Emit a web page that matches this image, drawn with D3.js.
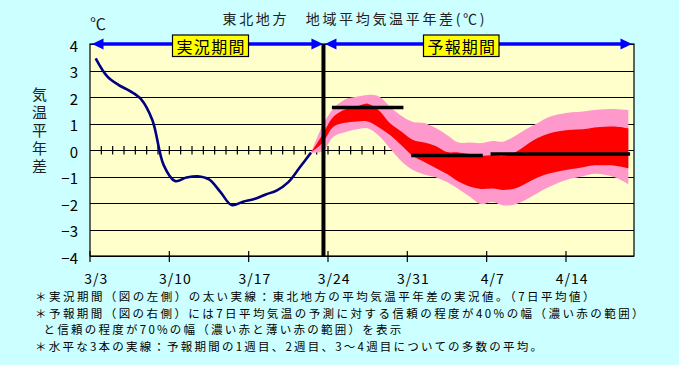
<!DOCTYPE html>
<html>
<head>
<meta charset="utf-8">
<script src="https://cdn.jsdelivr.net/npm/d3@7"></script>
<style>
  body { margin: 0; background: #ccffff; }
  svg { display: block; font-family: "Noto Sans CJK JP", sans-serif; }
</style>
</head>
<body>
<svg width="679" height="365"></svg>
<script>
// days counted from 3/3 (day 0) to 4/19 (day 47)
var nDays = 48;
var tickDays = [0, 7, 14, 21, 28, 35, 42];
var tickLabels = ["3/3", "3/10", "3/17", "3/24", "3/31", "4/7", "4/14"];
var yTicks = [-4, -3, -2, -1, 0, 1, 2, 3, 4];

// observed 7-day mean anomaly, day 0..19
var obs = [3.46, 2.79, 2.46, 2.23, 1.92, 1.13, -0.57, -1.17, -1.04, -0.99,
           -1.11, -1.58, -2.08, -1.95, -1.85, -1.68, -1.52, -1.21, -0.66, -0.10];

// forecast ranges, day 19..47
var fcStart = 19;
var pinkUpper = [-0.10, 0.91, 1.58, 1.91, 2.01, 2.08, 2.02, 1.62, 1.28, 1.06,
                 1.02, 0.83, 0.57, 0.28, 0.28, 0.26, 0.34, 0.32, 0.53, 0.79,
                 1.02, 1.25, 1.36, 1.42, 1.45, 1.51, 1.54, 1.54, 1.51];
var redUpper = [-0.10, 0.57, 1.26, 1.53, 1.63, 1.75, 1.49, 1.00, 0.69, 0.38,
                0.28, 0.15, -0.08, -0.09, -0.15, -0.22, -0.20, -0.23, -0.09, 0.19,
                0.45, 0.62, 0.72, 0.76, 0.78, 0.85, 0.88, 0.88, 0.82];
var redLower = [-0.10, 0.26, 0.89, 1.03, 1.08, 1.08, 0.85, 0.56, 0.17, -0.23,
                -0.45, -0.68, -0.91, -1.19, -1.38, -1.47, -1.45, -1.51, -1.45, -1.25,
                -1.04, -0.89, -0.79, -0.72, -0.65, -0.58, -0.58, -0.60, -0.69];
var pinkLower = [-0.10, -0.05, 0.51, 0.67, 0.78, 0.82, 0.53, 0.05, -0.43, -0.75,
                 -0.92, -1.03, -1.21, -1.47, -1.75, -2.04, -1.96, -2.09, -2.06, -1.87,
                 -1.62, -1.40, -1.21, -1.08, -0.99, -0.90, -0.94, -1.06, -1.30];

// ensemble mean of week 1, week 2, weeks 3-4
var weekStart = [21, 28, 35];
var weekEnd = [27, 34, 47];
var weekMean = [1.60, -0.21, -0.15];

var splitDay = 20.1;

var notes = [
  "＊実況期間（図の左側）の太い実線：東北地方の平均気温平年差の実況値。（7日平均値）",
  "＊予報期間（図の右側）には7日平均気温の予測に対する信頼の程度が40%の幅（濃い赤の範囲）",
  "と信頼の程度が70%の幅（濃い赤と薄い赤の範囲）を表示",
  "＊水平な3本の実線：予報期間の1週目、2週目、3～4週目についての多数の平均。"
];

var svg = d3.select("svg");
var x = d3.scaleLinear().domain([-0.5, nDays - 0.5]).range([90, 634]);
var y = d3.scaleLinear().domain([-4, 4]).range([256, 44]);

svg.append("rect").attr("width", 679).attr("height", 365).attr("fill", "#ccffff");
svg.append("rect")
    .attr("x", x(-0.5)).attr("y", y(4))
    .attr("width", x(nDays - 0.5) - x(-0.5)).attr("height", y(-4) - y(4))
    .attr("fill", "#ffffcc");

// grid
svg.append("g").selectAll("line")
  .data(yTicks)
  .enter().append("line")
    .attr("x1", x(-0.5)).attr("x2", x(nDays - 0.5))
    .attr("y1", function(d) { return Math.round(y(d)) + 0.5; })
    .attr("y2", function(d) { return Math.round(y(d)) + 0.5; })
    .attr("stroke", "#000").attr("stroke-width", 1.2);

// small day ticks on the zero line
svg.append("g").selectAll("line")
  .data(d3.range(1, 28))
  .enter().append("line")
    .attr("x1", function(d) { return x(d - 0.5); })
    .attr("x2", function(d) { return x(d - 0.5); })
    .attr("y1", y(0) - 4).attr("y2", y(0) + 4.5)
    .attr("stroke", "#000").attr("stroke-width", 1.2);

// forecast bands
var fc = pinkUpper.map(function(v, i) {
  return { day: fcStart + i, pu: v, ru: redUpper[i], rl: redLower[i], pl: pinkLower[i] };
});
var pinkArea = d3.area()
    .x(function(d) { return x(d.day); })
    .y0(function(d) { return y(d.pl); })
    .y1(function(d) { return y(d.pu); })
    .curve(d3.curveCatmullRom);
var redArea = d3.area()
    .x(function(d) { return x(d.day); })
    .y0(function(d) { return y(d.rl); })
    .y1(function(d) { return y(d.ru); })
    .curve(d3.curveCatmullRom);
svg.append("path").datum(fc).attr("d", pinkArea).attr("fill", "#ff99cc");
svg.append("path").datum(fc).attr("d", redArea).attr("fill", "#ff0000");

// observed line
var line = d3.line()
    .x(function(d, i) { return x(i); })
    .y(function(d) { return y(d); })
    .curve(d3.curveCatmullRom);
svg.append("path").datum(obs)
    .attr("d", line)
    .attr("fill", "none").attr("stroke", "#000080").attr("stroke-width", 2.6);

// weekly means
svg.append("g").selectAll("line")
  .data(weekMean)
  .enter().append("line")
    .attr("x1", function(d, i) { return x(weekStart[i]); })
    .attr("x2", function(d, i) { return x(weekEnd[i]); })
    .attr("y1", function(d) { return y(d); })
    .attr("y2", function(d) { return y(d); })
    .attr("stroke", "#000").attr("stroke-width", 3.5).attr("stroke-linecap", "square");

// frame
svg.append("rect")
    .attr("x", x(-0.5)).attr("y", y(4))
    .attr("width", x(nDays - 0.5) - x(-0.5)).attr("height", y(-4) - y(4))
    .attr("fill", "none").attr("stroke", "#000").attr("stroke-width", 1.2);

// split line between observed and forecast
svg.append("line")
    .attr("x1", x(splitDay)).attr("x2", x(splitDay))
    .attr("y1", y(4)).attr("y2", y(-4) + 1)
    .attr("stroke", "#000").attr("stroke-width", 4);

// x axis ticks and labels
svg.append("g").selectAll("line")
  .data(tickDays)
  .enter().append("line")
    .attr("x1", function(d) { return x(d - 0.5); })
    .attr("x2", function(d) { return x(d - 0.5); })
    .attr("y1", 251).attr("y2", 262)
    .attr("stroke", "#000").attr("stroke-width", 1.2);
svg.append("g").selectAll("text")
  .data(tickDays)
  .enter().append("text")
    .attr("x", function(d) { return x(d) + 0.5; })
    .attr("y", 278)
    .attr("text-anchor", "middle")
    .attr("dominant-baseline", "central")
    .attr("font-size", 14)
    .attr("letter-spacing", 1)
    .text(function(d, i) { return tickLabels[i]; });

// y axis labels
svg.append("g").selectAll("text")
  .data(yTicks)
  .enter().append("text")
    .attr("x", 78)
    .attr("y", function(d) { return y(d) + 1; })
    .attr("text-anchor", "end")
    .attr("dominant-baseline", "central")
    .attr("font-size", 15)
    .text(function(d) { return d < 0 ? "\u2212" + (-d) : d; });

// period arrows
function arrow(xa, xb) {
  var yy = y(4), len = 11.5, hw = 5.5;
  var g = svg.append("g").attr("fill", "#0000ff");
  g.append("line")
      .attr("x1", xa + 4).attr("x2", xb - 4)
      .attr("y1", yy).attr("y2", yy)
      .attr("stroke", "#0000ff").attr("stroke-width", 3.5);
  g.append("path").attr("d", "M" + xa + "," + yy + "L" + (xa + len) + "," + (yy - hw) + "L" + (xa + len) + "," + (yy + hw) + "Z");
  g.append("path").attr("d", "M" + xb + "," + yy + "L" + (xb - len) + "," + (yy - hw) + "L" + (xb - len) + "," + (yy + hw) + "Z");
}
arrow(x(-0.5) + 2, x(splitDay) - 0.5);
arrow(x(splitDay) + 1.5, x(nDays - 0.5) - 2);

function periodBox(x0, x1, label) {
  svg.append("rect")
      .attr("x", x0).attr("y", 35).attr("width", x1 - x0).attr("height", 21.5)
      .attr("fill", "#ffff00").attr("stroke", "#000").attr("stroke-width", 1.2);
  svg.append("text")
      .attr("x", x0 + 4).attr("y", 46)
      .attr("dominant-baseline", "central")
      .attr("font-size", 16)
      .attr("textLength", x1 - x0 - 8).attr("lengthAdjust", "spacing")
      .text(label);
}
periodBox(172.5, 248.5, "実況期間");
periodBox(423.5, 499, "予報期間");

// title and units
svg.append("text")
    .attr("x", 222.5).attr("y", 17.5)
    .attr("dominant-baseline", "central")
    .attr("font-size", 14).attr("fill", "#222")
    .attr("textLength", 262).attr("lengthAdjust", "spacing")
    .text("東北地方　地域平均気温平年差(℃)");
svg.append("text")
    .attr("x", 90).attr("y", 23)
    .attr("dominant-baseline", "central")
    .attr("font-size", 16).attr("fill", "#222")
    .text("℃");

// vertical axis title
svg.append("text")
    .attr("x", 39.5).attr("y", 87)
    .attr("writing-mode", "vertical-rl")
    .attr("font-size", 15).attr("fill", "#222")
    .attr("letter-spacing", 3)
    .text("気温平年差");

// notes: each line stretched to the reference width
var noteX = [35, 35, 43.5, 35];
var noteW = [562, 611, 360, 509];
svg.append("g").selectAll("text")
  .data(notes)
  .enter().append("text")
    .attr("x", function(d, i) { return noteX[i]; })
    .attr("y", function(d, i) { return 296 + i * 16.7; })
    .attr("dominant-baseline", "central")
    .attr("font-size", 11.5).attr("fill", "#000")
    .text(function(d) { return d; })
    .each(function(d, i) {
      var w = this.getComputedTextLength();
      d3.select(this).attr("letter-spacing", ((noteW[i] - w) / d.length).toFixed(2));
    });
</script>
</body>
</html>
